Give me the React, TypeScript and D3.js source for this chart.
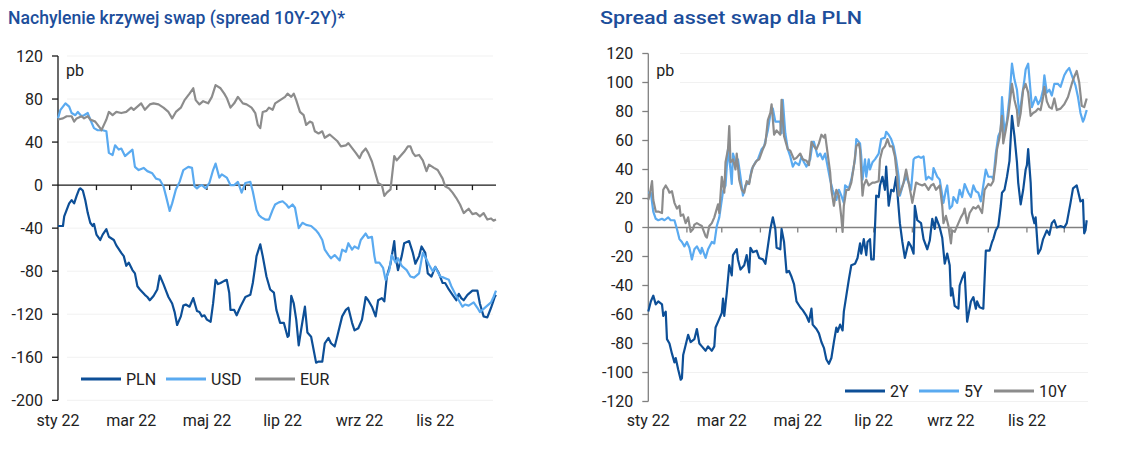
import React from "react";
import * as d3 from "d3";

// Day offsets are days since 2022-01-01; values in basis points (pb)
const PLN: [number, number][] = [[0,-38],[4,-38],[5,-29],[9,-17],[11,-14],[13,-17],[15,-10],[17,-4],[18,-3],[20,-5],[22,-14],[24,-26],[26,-35],[28,-38],[29,-36],[31,-46],[34,-51],[36,-46],[39,-41],[41,-48],[45,-51],[47,-56],[51,-63],[53,-66],[55,-75],[57,-72],[60,-79],[62,-82],[64,-94],[66,-97],[70,-102],[72,-104],[74,-107],[77,-103],[80,-97],[82,-84],[85,-92],[87,-98],[89,-104],[92,-110],[94,-118],[96,-130],[99,-122],[101,-112],[103,-111],[106,-113],[109,-105],[112,-117],[114,-118],[116,-122],[118,-121],[120,-125],[123,-127],[125,-110],[127,-88],[129,-92],[131,-91],[134,-89],[136,-88],[138,-100],[139,-116],[142,-116],[144,-121],[147,-113],[151,-104],[155,-102],[157,-91],[159,-75],[160,-66],[163,-55],[165,-66],[168,-85],[171,-97],[174,-100],[176,-116],[179,-128],[182,-128],[185,-141],[186,-140],[188,-103],[190,-110],[192,-125],[194,-149],[196,-134],[199,-113],[201,-137],[204,-141],[205,-147],[208,-165],[210,-164],[213,-164],[215,-147],[218,-142],[220,-147],[223,-150],[225,-141],[229,-122],[232,-116],[234,-114],[237,-128],[239,-135],[242,-133],[245,-125],[248,-104],[250,-107],[253,-113],[256,-122],[258,-107],[261,-105],[263,-108],[265,-85],[268,-73],[271,-52],[272,-66],[274,-79],[277,-66],[279,-54],[283,-52],[286,-63],[288,-73],[291,-66],[293,-57],[296,-63],[298,-82],[301,-85],[304,-76],[307,-82],[310,-91],[312,-91],[315,-97],[318,-102],[321,-107],[323,-101],[325,-105],[327,-107],[330,-102],[334,-98],[338,-98],[340,-110],[343,-122],[346,-123],[349,-114],[352,-104],[353,-102]];

const USD: [number, number][] = [[0,62],[2,70],[6,76],[9,73],[11,67],[14,65],[16,68],[19,64],[21,65],[24,67],[26,61],[29,53],[32,51],[36,51],[39,50],[41,30],[44,28],[46,37],[49,33],[51,34],[54,27],[57,30],[60,33],[62,17],[65,14],[69,16],[72,13],[76,11],[79,6],[82,5],[85,-1],[87,-10],[90,-24],[92,-17],[95,-4],[98,3],[101,14],[105,17],[108,16],[110,-1],[112,-3],[114,-1],[116,0],[119,-3],[122,2],[125,14],[127,20],[130,7],[132,10],[136,7],[139,0],[142,0],[145,3],[148,-7],[151,2],[155,3],[157,-6],[160,-23],[162,-28],[164,-30],[167,-32],[170,-32],[173,-23],[175,-18],[178,-16],[181,-15],[184,-18],[186,-21],[189,-18],[191,-21],[194,-40],[197,-35],[200,-37],[204,-38],[208,-42],[210,-45],[213,-51],[215,-60],[218,-65],[220,-68],[223,-65],[227,-70],[229,-60],[232,-62],[234,-54],[237,-60],[239,-57],[242,-59],[244,-51],[248,-45],[250,-49],[253,-48],[255,-66],[256,-72],[259,-72],[262,-77],[264,-88],[267,-79],[269,-65],[272,-72],[274,-68],[277,-75],[281,-79],[284,-85],[287,-86],[291,-82],[294,-63],[297,-69],[299,-74],[302,-80],[304,-76],[308,-85],[311,-86],[315,-88],[317,-94],[321,-103],[323,-107],[326,-113],[328,-111],[331,-112],[335,-109],[338,-114],[340,-118],[343,-115],[346,-112],[349,-109],[351,-104],[353,-98]];

const EUR: [number, number][] = [[0,61],[4,62],[7,64],[11,64],[13,59],[15,62],[19,64],[21,62],[24,64],[26,61],[30,59],[34,53],[35,51],[37,56],[39,61],[41,68],[44,65],[47,68],[51,67],[55,68],[59,72],[61,70],[64,73],[67,76],[70,70],[74,75],[77,76],[81,75],[85,72],[89,68],[92,62],[95,68],[99,72],[102,79],[106,85],[109,90],[111,79],[114,75],[117,78],[121,76],[124,82],[127,93],[131,90],[134,85],[136,81],[139,72],[142,76],[145,82],[149,76],[152,75],[156,72],[159,67],[161,56],[163,53],[165,68],[168,69],[170,72],[173,70],[175,76],[179,79],[183,82],[185,85],[188,82],[190,85],[192,79],[195,68],[198,65],[200,56],[203,59],[205,58],[207,50],[210,48],[213,50],[215,44],[219,47],[222,44],[225,41],[228,36],[232,37],[234,39],[238,33],[240,30],[243,25],[245,30],[248,34],[250,30],[253,22],[255,14],[258,2],[261,0],[263,-10],[265,-7],[268,-4],[271,27],[273,23],[276,27],[279,31],[282,36],[284,36],[286,30],[288,27],[291,28],[294,23],[297,13],[299,19],[303,16],[306,14],[310,6],[312,-1],[315,-3],[318,-7],[321,-12],[324,-18],[327,-26],[329,-24],[331,-22],[334,-27],[337,-26],[340,-29],[343,-26],[346,-32],[349,-31],[351,-33],[353,-32]];

const Y2: [number, number][] = [[0,-58],[2,-51],[4,-47],[6,-53],[8,-51],[11,-53],[12,-61],[14,-58],[15,-77],[17,-80],[19,-87],[21,-93],[22,-90],[24,-98],[26,-105],[27,-104],[28,-88],[30,-81],[32,-74],[34,-79],[37,-77],[39,-70],[41,-80],[43,-82],[46,-85],[48,-82],[51,-85],[53,-82],[54,-69],[57,-63],[59,-59],[60,-49],[61,-61],[63,-45],[65,-26],[67,-33],[68,-19],[71,-15],[72,-22],[74,-29],[77,-26],[79,-19],[81,-31],[82,-14],[84,-17],[87,-16],[89,-21],[92,-22],[94,-25],[96,-13],[98,-1],[100,7],[102,-1],[103,-14],[106,-15],[107,-1],[109,-10],[111,-31],[113,-30],[115,-34],[117,-39],[119,-51],[122,-55],[124,-57],[127,-61],[129,-65],[131,-56],[132,-67],[135,-70],[137,-73],[139,-79],[141,-83],[143,-91],[145,-94],[147,-90],[149,-79],[151,-69],[152,-72],[154,-67],[156,-71],[157,-58],[159,-47],[161,-36],[163,-26],[166,-25],[168,-21],[170,-11],[171,-18],[173,-8],[175,-19],[176,-10],[178,-8],[179,-22],[181,-22],[183,22],[185,21],[186,29],[188,35],[190,26],[191,42],[193,15],[195,26],[197,25],[199,35],[200,24],[202,3],[204,-10],[206,-21],[209,-10],[211,-13],[213,-18],[214,15],[216,5],[219,3],[221,-8],[224,-15],[226,-9],[228,6],[230,-1],[231,7],[234,0],[236,-7],[238,-25],[240,-18],[242,-26],[243,-47],[244,-42],[246,-54],[249,-56],[250,-40],[252,-35],[254,-31],[256,-65],[259,-51],[261,-48],[263,-56],[264,-51],[266,-55],[269,-56],[271,-16],[274,-16],[276,-10],[277,-8],[279,-2],[281,1],[283,15],[284,24],[286,26],[288,35],[290,46],[292,77],[294,63],[296,45],[297,31],[299,16],[301,26],[303,40],[304,43],[305,54],[307,31],[308,10],[310,3],[311,7],[313,-18],[315,-15],[317,-8],[320,-2],[322,-5],[324,3],[326,5],[328,0],[331,1],[334,0],[336,3],[339,17],[341,27],[344,29],[347,18],[349,19],[350,-4],[351,-2],[352,5]];

const Y5: [number, number][] = [[0,24],[2,24],[4,11],[6,6],[8,5],[11,6],[13,5],[16,7],[18,5],[21,5],[23,-1],[25,-8],[27,-10],[29,-13],[31,-10],[33,-14],[35,-22],[37,-15],[39,-13],[42,-18],[43,-14],[46,-21],[48,-15],[51,-10],[53,-11],[55,1],[57,7],[58,13],[60,25],[62,29],[64,54],[66,40],[67,30],[68,51],[70,45],[72,47],[74,35],[76,22],[78,29],[81,31],[83,40],[86,45],[88,47],[91,54],[93,56],[96,67],[98,78],[100,82],[102,73],[104,73],[106,73],[107,65],[108,88],[110,65],[112,54],[114,49],[116,42],[118,45],[121,43],[123,49],[125,45],[127,42],[130,47],[132,59],[133,59],[136,49],[138,51],[140,47],[142,51],[144,42],[146,33],[148,26],[151,19],[153,26],[155,22],[157,17],[158,29],[161,27],[163,33],[166,47],[167,61],[170,58],[171,49],[172,33],[174,47],[175,35],[177,47],[178,40],[180,45],[182,47],[185,51],[187,61],[190,62],[191,66],[193,64],[195,61],[197,56],[199,47],[201,35],[202,22],[205,31],[207,35],[209,31],[211,26],[213,47],[214,48],[217,49],[219,48],[221,49],[223,33],[225,35],[228,33],[229,41],[232,35],[234,33],[237,17],[239,26],[240,29],[242,13],[244,15],[245,21],[248,17],[250,26],[252,21],[254,30],[257,24],[259,21],[261,29],[263,25],[265,24],[267,18],[269,29],[271,40],[273,35],[276,35],[277,33],[279,51],[281,63],[283,67],[284,90],[286,65],[288,74],[290,90],[292,113],[294,102],[296,95],[298,77],[300,90],[302,102],[303,109],[305,113],[307,93],[308,83],[311,90],[313,85],[315,88],[317,95],[318,105],[320,93],[322,95],[324,91],[326,99],[329,99],[331,97],[334,105],[336,108],[338,110],[340,105],[343,98],[345,90],[347,79],[349,73],[350,75],[352,81]];

const Y10: [number, number][] = [[0,19],[1,22],[3,32],[4,19],[6,11],[8,11],[11,10],[12,26],[14,29],[16,26],[17,24],[19,25],[21,17],[23,13],[25,15],[26,8],[28,9],[30,3],[32,7],[34,-3],[36,-1],[37,2],[39,3],[41,2],[43,1],[46,-6],[47,-7],[49,1],[51,3],[53,7],[55,13],[56,16],[57,10],[59,35],[61,24],[62,45],[64,54],[65,70],[66,45],[68,47],[70,40],[71,51],[73,33],[75,26],[77,24],[79,32],[81,30],[82,35],[84,42],[87,46],[89,47],[92,54],[94,58],[96,74],[98,79],[99,85],[101,64],[103,67],[106,64],[107,88],[109,63],[111,57],[112,54],[114,53],[117,47],[119,48],[122,51],[124,47],[127,46],[129,43],[131,59],[133,56],[135,54],[137,58],[139,64],[141,62],[142,64],[144,51],[146,38],[147,26],[149,15],[151,26],[153,22],[155,7],[156,-3],[157,15],[159,26],[161,26],[163,31],[165,42],[167,56],[169,58],[170,54],[172,22],[173,29],[175,33],[177,29],[180,31],[182,31],[185,32],[186,47],[188,54],[190,56],[192,61],[194,56],[196,56],[198,49],[200,33],[201,22],[203,26],[205,31],[207,40],[209,31],[211,22],[212,17],[215,31],[217,30],[220,29],[222,30],[225,26],[227,29],[229,30],[231,26],[234,29],[236,15],[237,3],[239,8],[241,1],[243,-11],[244,-2],[246,-3],[249,3],[251,7],[253,10],[254,13],[256,3],[258,10],[261,14],[263,13],[265,15],[268,10],[270,26],[273,30],[275,29],[277,32],[279,45],[280,54],[282,62],[284,77],[285,58],[287,67],[289,77],[292,99],[294,88],[296,81],[297,70],[299,79],[301,95],[303,99],[305,93],[307,77],[309,79],[311,80],[313,82],[315,81],[317,90],[318,97],[320,87],[322,83],[324,82],[326,89],[328,81],[331,82],[334,85],[337,90],[340,99],[342,104],[344,108],[346,100],[348,84],[350,83],[352,89]];

const MONTH_LABELS = ["sty 22", "lut 22", "mar 22", "kwi 22", "maj 22", "cze 22", "lip 22", "sie 22", "wrz 22", "paź 22", "lis 22", "gru 22"];
const LEFT_TICKS = [120, 80, 40, 0, -40, -80, -120, -160, -200];
const RIGHT_TICKS = [120, 100, 80, 60, 40, 20, 0, -20, -40, -60, -80, -100, -120];
const LEFT_SERIES = ["PLN", "USD", "EUR"];
const RIGHT_SERIES = ["2Y", "5Y", "10Y"];
const TITLES = ["Nachylenie krzywej swap (spread 10Y-2Y)*", "Spread asset swap dla PLN"];

const COLORS = ["#0d4f97", "#5aaaf0", "#8c8c8c"];
const FONT = "Roboto, 'Open Sans', sans-serif";
const START = new Date(2022, 0, 1);
const toDate = (d: number) => new Date(2022, 0, 1 + d);

type Cfg = {
  x0: number; x1: number; endDay: number;
  yDomain: [number, number]; yRange: [number, number];
  ticks: number[]; axisColor: string;
  series: [number, number][][]; names: string[];
  legendY: number; legendX: number[]; gridX0: number; gridX1: number;
  title: string; titleX: number; titleLen: number;
};

function Panel({ c }: { c: Cfg }) {
  const x = d3.scaleTime().domain([START, toDate(c.endDay)]).range([c.x0, c.x1]);
  const y = d3.scaleLinear().domain(c.yDomain).range(c.yRange);
  const line = d3.line<[number, number]>().x(d => x(toDate(d[0]))).y(d => y(d[1]));
  const months = d3.timeMonth.range(START, toDate(c.endDay));
  const yTop = y(c.yDomain[1]);
  const yBot = y(c.yDomain[0]);
  const y0 = y(0);
  return (
    <g>
      <text x={c.titleX} y={24} fontFamily={FONT} fontSize={19} fontWeight={500} fill="#1c4e9b"
        textLength={c.titleLen} lengthAdjust="spacingAndGlyphs">{c.title}</text>
      {c.ticks.filter(t => t !== 0).map(t => (
        <line key={"g" + t} x1={c.gridX0} x2={c.gridX1} y1={y(t)} y2={y(t)} stroke="#f1f1f1" strokeWidth={1} />
      ))}
      <line x1={c.x0} x2={c.x0} y1={yTop} y2={yBot} stroke={c.axisColor} strokeWidth={1.3} />
      {c.ticks.map(t => (
        <g key={"t" + t}>
          <line x1={c.x0 - 6} x2={c.x0} y1={y(t)} y2={y(t)} stroke={c.axisColor} strokeWidth={1.3} />
          <text x={c.x0 - 15} y={y(t)} dy="0.36em" textAnchor="end" fontFamily={FONT} fontSize={16} fill="#222">{t}</text>
        </g>
      ))}
      <text x={c.x0 + 8} y={76} fontFamily={FONT} fontSize={16} fill="#222">pb</text>
      <line x1={c.x0} x2={c.x1} y1={y0} y2={y0} stroke={c.axisColor} strokeWidth={1.3} />
      {months.slice(1).map((m, i) => (
        <line key={"m" + i} x1={x(m)} x2={x(m)} y1={y0} y2={y0 + 5} stroke={c.axisColor} strokeWidth={1.3} />
      ))}
      {months.map((m, i) => i % 2 === 0 ? (
        <text key={"l" + i} x={x(m)} y={426} textAnchor="middle" fontFamily={FONT} fontSize={16} fill="#222">
          {MONTH_LABELS[m.getMonth()]}
        </text>
      ) : null)}
      {c.series.map((s, i) => (
        <path key={"s" + i} d={line(s) || ""} fill="none" stroke={COLORS[i]} strokeWidth={2.2} strokeLinejoin="round" />
      ))}
      {c.names.map((n, i) => (
        <g key={"lg" + i}>
          <line x1={c.legendX[i]} x2={c.legendX[i] + 40} y1={c.legendY} y2={c.legendY} stroke={COLORS[i]} strokeWidth={3} />
          <text x={c.legendX[i] + 45} y={c.legendY} dy="0.36em" fontFamily={FONT} fontSize={16} fill="#222">{n}</text>
        </g>
      ))}
    </g>
  );
}

export default function App() {
  const left: Cfg = {
    x0: 58, x1: 496, endDay: 353,
    yDomain: [-200, 120], yRange: [400.3, 56], ticks: LEFT_TICKS, axisColor: "#1a1a1a",
    series: [PLN, USD, EUR], names: LEFT_SERIES, legendY: 379, legendX: [81, 166, 255],
    gridX0: 67, gridX1: 493, title: TITLES[0], titleX: 8, titleLen: 337,
  };
  const right: Cfg = {
    x0: 648.3, x1: 1086.7, endDay: 352,
    yDomain: [-120, 120], yRange: [401.5, 53.5], ticks: RIGHT_TICKS, axisColor: "#808080",
    series: [Y2, Y5, Y10], names: RIGHT_SERIES, legendY: 391, legendX: [845, 919, 994],
    gridX0: 680, gridX1: 1088, title: TITLES[1], titleX: 600, titleLen: 262,
  };
  return (
    <svg width={1135} height={453} style={{ position: "absolute", left: 0, top: 0, background: "#fff" }}>
      <rect width={1135} height={453} fill="#fff" />
      <Panel c={left} />
      <Panel c={right} />
    </svg>
  );
}
